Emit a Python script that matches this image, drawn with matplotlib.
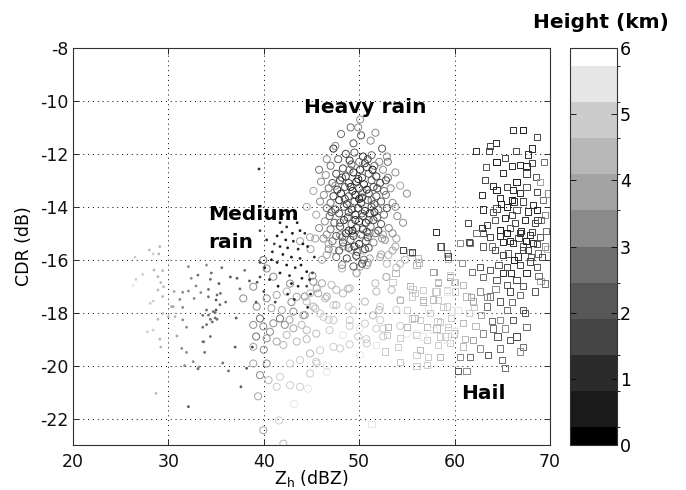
import numpy as np
import matplotlib
matplotlib.use("Agg")
import matplotlib.pyplot as plt
from matplotlib.colors import ListedColormap, BoundaryNorm
from matplotlib.cm import ScalarMappable

plt.rcParams['font.family'] = ['DejaVu Sans']
plt.rcParams['axes.unicode_minus'] = False

# ---------------- data: (Zh dBZ, CDR dB, height km) ----------------
medium_rain_dark = [
    (41.7,-14.6,0.6),(42.4,-14.76,0.9),(43.5,-14.6,0.4),(41.9,-14.95,1.2),(43.0,-15.0,0.5),
    (43.8,-14.9,0.8),(41.4,-15.1,0.3),(42.3,-15.25,0.7),(43.1,-15.3,1.1),(44.1,-15.4,0.6),
    (41.7,-15.5,0.9),(42.5,-15.55,0.4),(43.6,-15.6,1.3),(44.6,-15.5,0.8),(40.9,-15.7,1.0),
    (42.0,-15.8,0.5),(42.9,-15.9,0.7),(43.8,-15.95,1.2),(40.3,-15.25,0.9),(39.6,-16.1,1.4),
    (40.1,-16.3,0.6),(41.4,-16.1,0.8),(42.4,-16.2,0.4),(43.3,-16.3,1.0),(44.5,-16.45,0.7),
    (45.1,-16.5,1.5),(41.7,-16.5,0.5),(42.7,-16.6,1.1),(44.0,-16.7,0.6),(40.6,-16.75,1.3),
    (43.6,-17.0,0.9),(44.5,-17.0,1.4),(41.5,-17.0,0.8),(44.8,-16.75,1.0),(39.6,-16.65,1.6),
    (39.5,-12.57,1.2),(39.6,-14.9,1.5),(42.5,-17.3,1.2),(43.2,-17.5,1.0),(44.6,-17.8,1.3),
    (42.0,-14.3,0.9),(43.2,-14.4,1.1),(44.3,-15.0,0.9),(40.8,-16.0,0.7),(41.1,-15.4,1.4),
    (42.9,-16.9,0.6),(43.9,-16.2,0.5),(45.3,-15.9,1.2),(44.9,-17.3,0.8),(40.0,-17.2,1.8),
    (39.2,-17.6,2.0),(38.8,-19.3,1.8),(38.2,-20.1,2.2),(41.2,-17.6,1.6),
]
medium_rain_gray = [
    (32.1,-16.26,3.0),(33.1,-16.58,2.8),(34.5,-16.5,2.6),(35.3,-16.9,2.4),(34.4,-16.74,2.9),
    (32.4,-16.7,3.2),(32.9,-16.99,3.0),(34.2,-17.12,2.7),(33.4,-17.24,3.1),(32.1,-17.18,3.3),
    (32.7,-17.46,3.0),(34.2,-17.4,2.5),(35.0,-17.52,2.4),(35.45,-17.27,2.6),(31.5,-17.23,3.4),
    (30.6,-17.2,3.6),(31.2,-17.5,3.5),(31.5,-17.8,3.3),(34.0,-17.9,2.6),(34.7,-17.96,2.5),
    (34.2,-18.09,2.7),(35.0,-17.9,2.4),(34.4,-18.25,2.6),(34.9,-18.2,2.5),(33.6,-18.55,2.9),
    (31.9,-18.55,3.4),(31.5,-18.27,3.5),(30.9,-18.88,3.6),(34.4,-18.9,2.8),(33.6,-19.1,3.0),
    (31.4,-19.35,3.5),(33.8,-19.5,2.9),(31.9,-19.5,3.3),(33.1,-20.12,2.8),(31.7,-20.0,3.4),
    (32.1,-21.55,2.3),(33.6,-18.1,2.8),(35.4,-17.7,2.5),(35.1,-17.33,2.7),(36.5,-16.65,2.4),
    (37.2,-16.7,2.2),(38.0,-16.4,2.6),(38.5,-16.8,2.3),(37.5,-17.1,2.5),(39.3,-16.85,2.1),
    (35.6,-16.3,2.8),(34.0,-16.2,3.0),(37.1,-18.2,2.4),(37.0,-19.3,2.2),(35.7,-19.9,2.7),
    (36.3,-20.2,2.5),(37.6,-20.8,2.3),(34.9,-18.0,2.6),(35.1,-18.25,2.5),(34.0,-18.45,2.7),
    (34.6,-18.35,2.6),(33.7,-19.1,2.9),(32.6,-19.85,3.1),(33.2,-20.05,3.0),(36.0,-17.6,2.6),
]
medium_rain_light = [
    (28.0,-15.63,4.6),(29.1,-15.5,4.4),(28.4,-15.78,4.8),(29.0,-15.78,4.5),(26.5,-15.9,5.0),
    (27.3,-16.55,4.7),(26.6,-16.74,5.0),(26.3,-16.98,5.2),(28.5,-16.39,4.6),(28.9,-16.64,4.5),
    (29.4,-16.41,4.3),(29.2,-16.86,4.4),(29.5,-17.02,4.2),(28.9,-17.14,4.6),(29.4,-17.39,4.3),
    (28.4,-17.56,4.7),(28.1,-17.65,4.8),(30.3,-17.77,4.1),(29.4,-18.03,4.4),(28.9,-18.25,4.6),
    (28.4,-18.66,4.8),(27.8,-18.72,5.0),(29.1,-19.0,4.5),(29.2,-19.3,4.4),(28.7,-21.05,4.6),
    (30.0,-18.15,4.2),(30.5,-17.77,4.0),(30.7,-18.15,4.1),
]

heavy_rain_core = [
    (50.1,-10.7,3.5),(49.1,-11.0,2.5),(48.1,-11.25,2.8),(51.7,-11.2,3.2),(50.2,-11.3,2.0),
    (51.2,-11.5,3.0),(49.4,-11.6,2.2),(47.3,-11.8,1.2),(52.9,-12.1,3.4),(45.8,-12.6,2.6),
    (53.8,-12.7,3.0),(45.2,-13.4,3.6),(44.5,-14.0,3.8),(53.8,-14.0,3.2),(49.9,-11.0,3.1),
    (48.6,-12.0,1.8),(49.5,-11.95,2.4),(50.4,-12.1,1.2),(51.3,-12.05,2.9),(47.8,-12.2,2.2),
    (49.0,-12.25,1.0),(50.0,-12.3,2.6),(50.9,-12.2,1.6),(52.1,-12.3,3.1),
    (47.0,-12.45,2.8),(48.3,-12.55,1.4),(49.2,-12.4,2.0),(50.1,-12.6,0.9),(50.8,-12.5,1.7),
    (51.6,-12.45,2.5),(52.5,-12.6,3.3),
    (46.5,-12.8,3.0),(47.6,-12.75,1.9),(48.6,-12.85,1.1),(49.4,-12.7,0.6),(50.3,-12.9,1.5),
    (51.0,-12.75,2.2),(51.8,-12.85,1.3),(53.0,-12.9,2.9),
    (46.0,-13.05,3.4),(47.2,-13.1,2.3),(48.0,-13.0,1.0),(48.9,-13.1,1.6),(49.7,-13.05,0.7),
    (50.5,-13.15,1.2),(51.3,-13.0,2.0),(52.2,-13.1,1.8),
    (46.8,-13.3,2.6),(47.7,-13.35,1.3),(48.5,-13.25,2.1),(49.3,-13.4,0.8),(50.0,-13.3,1.5),
    (50.8,-13.35,0.5),(51.5,-13.25,1.9),(52.6,-13.4,2.7),(53.3,-13.3,3.2),
    (46.3,-13.55,3.1),(47.3,-13.6,1.7),(48.1,-13.5,1.0),(48.9,-13.6,2.3),(49.6,-13.55,1.1),
    (50.3,-13.65,0.6),(51.0,-13.5,1.4),(51.8,-13.6,2.1),(52.8,-13.55,2.9),
    (45.9,-13.8,3.5),(47.0,-13.85,2.5),(47.9,-13.75,1.2),(48.7,-13.9,0.9),(49.5,-13.8,1.8),
    (50.2,-13.85,1.0),(50.9,-13.75,2.4),(51.6,-13.9,1.3),(52.3,-13.8,2.0),(53.5,-13.85,3.3),
    (46.6,-14.05,2.9),(47.5,-14.1,1.6),(48.4,-14.0,2.2),(49.2,-14.1,0.7),(49.9,-14.05,1.5),
    (50.6,-14.15,1.1),(51.3,-14.0,1.9),(52.0,-14.1,2.6),(52.9,-14.05,1.7),
    (45.5,-14.3,3.6),(46.9,-14.35,2.4),(47.9,-14.25,1.4),(48.8,-14.4,1.9),(49.6,-14.3,0.9),
    (50.4,-14.35,1.6),(51.1,-14.25,1.0),(51.9,-14.4,2.3),(52.6,-14.3,2.8),(54.0,-14.35,3.4),
    (46.4,-14.55,3.2),(47.4,-14.6,2.0),(48.4,-14.5,1.2),(49.2,-14.65,2.6),(50.0,-14.55,1.4),
    (50.7,-14.6,0.8),(51.5,-14.5,1.8),(52.3,-14.65,2.4),
    (45.8,-14.8,3.5),(47.0,-14.85,2.6),(48.0,-14.75,1.5),(48.9,-14.9,1.0),(49.7,-14.8,2.1),
    (50.4,-14.85,1.3),(51.2,-14.75,2.7),(52.0,-14.9,1.9),(53.1,-14.8,3.0),
    (46.6,-15.05,3.0),(47.6,-15.1,2.2),(48.6,-15.0,1.1),(49.4,-15.1,1.7),(50.2,-15.05,2.4),
    (50.9,-15.15,1.5),(51.7,-15.0,2.9),
    (47.2,-15.3,2.7),(48.3,-15.35,1.6),(49.1,-15.25,2.3),(50.0,-15.4,1.2),(50.7,-15.3,2.0),
    (51.5,-15.35,3.1),(46.8,-15.6,3.3),(47.9,-15.65,2.1),(48.9,-15.55,1.4),(49.8,-15.7,2.6),
    (50.6,-15.6,1.8),(47.6,-15.9,2.8),(48.7,-15.95,1.9),(49.7,-15.85,1.3),(50.5,-16.0,2.5),
    (48.2,-16.2,3.0),(49.4,-16.25,2.2),(50.3,-16.15,1.7),
    (49.0,-12.6,2.7),(50.6,-12.35,1.9),(48.2,-12.9,2.4),(49.9,-12.95,1.3),(51.4,-12.6,0.8),
    (47.5,-13.2,3.0),(49.1,-13.25,1.2),(50.4,-13.45,2.5),(51.9,-13.3,1.5),(48.5,-13.7,1.6),
    (50.0,-13.7,0.5),(51.3,-13.75,2.8),(47.1,-14.2,2.1),(48.9,-14.2,1.4),(50.3,-14.25,2.0),
    (51.6,-14.2,0.9),(48.0,-14.6,2.5),(49.6,-14.5,1.0),(51.0,-14.5,2.3),(49.3,-14.9,0.8),
    (50.8,-14.95,1.6),(48.2,-15.15,2.6),(49.5,-15.5,1.1),(51.0,-15.55,2.2),(52.4,-15.2,3.2),
    (53.5,-15.0,3.4),(52.8,-13.0,1.4),(45.4,-15.2,3.8),(44.9,-15.6,3.9),(46.1,-16.0,3.7),
    (45.1,-16.6,3.4),(54.3,-13.2,3.6),(54.6,-14.6,3.3),(53.8,-15.5,3.7),(55.0,-13.5,3.5),
    (53.0,-12.3,2.5),(46.6,-12.2,3.3),(47.5,-11.7,3.0),(52.4,-11.8,2.1),(52.7,-15.25,3.6),
]
heavy_rain_spread = [
    (43.8,-15.3,3.8),(44.85,-15.15,3.6),(46.25,-15.2,3.4),(46.8,-15.4,3.9),(47.3,-15.63,3.7),
    (46.6,-15.82,4.0),(48.34,-15.5,3.5),(49.2,-15.63,3.8),(48.0,-15.07,3.3),(51.1,-15.0,3.9),
    (52.7,-15.25,3.7),(53.06,-15.82,4.1),(52.2,-15.9,3.8),(50.8,-16.2,4.0),(51.1,-15.95,3.6),
    (50.1,-16.26,3.9),(48.2,-16.33,4.2),(49.74,-16.51,4.0),(49.0,-17.08,4.4),(47.1,-16.95,4.1),
    (46.1,-16.89,3.8),(45.2,-16.83,3.5),(47.6,-17.14,4.5),(48.3,-17.27,4.3),(46.6,-17.39,4.0),
    (45.7,-17.27,3.7),(44.3,-17.39,3.3),(45.4,-17.84,4.4),(47.6,-17.71,4.6),(48.9,-17.77,4.8),
    (50.6,-17.58,4.5),(52.2,-17.77,4.7),(53.4,-17.14,4.3),(54.3,-17.52,4.9),(53.9,-17.9,5.0),
    (52.9,-16.15,4.1),(54.3,-16.15,4.4),(51.7,-16.89,4.2),(44.15,-18.1,3.6),(46.25,-18.16,4.7),
    (47.3,-18.28,4.9),(49.0,-18.28,5.1),(50.6,-18.41,4.8),(52.2,-18.28,5.0),(44.5,-18.66,4.2),
    (45.5,-18.79,4.6),(46.9,-18.66,5.0),(48.3,-18.85,5.2),(49.9,-18.9,4.9),(48.0,-19.35,5.1),
    (49.0,-19.2,4.7),(50.1,-19.6,5.2),(50.8,-19.16,4.8),(54.3,-18.5,5.0),(55.0,-18.8,5.2),
    (45.5,-19.85,5.0),(46.6,-20.0,5.2),(44.85,-20.3,4.8),(52.5,-18.9,5.1),(56.0,-18.8,5.3),
    (38.9,-17.02,3.2),(37.85,-17.46,3.5),(39.25,-17.77,3.0),(39.6,-18.22,2.9),(38.9,-18.46,3.3),
    (39.95,-18.52,3.1),(40.65,-18.72,3.4),(40.3,-18.97,3.0),(41.0,-18.4,3.2),(41.7,-18.22,2.8),
    (42.2,-18.46,3.1),(42.7,-18.27,3.6),(43.1,-18.59,3.9),(42.4,-18.84,4.2),(41.35,-19.09,3.7),
    (42.05,-19.22,4.5),(43.45,-19.09,4.1),(43.97,-18.46,4.4),(44.3,-18.09,3.8),(43.1,-17.96,3.5),
    (41.9,-17.9,4.0),(40.8,-17.83,3.7),(40.3,-17.46,3.3),(41.35,-17.33,3.6),(42.4,-17.2,4.1),
    (43.45,-17.4,3.9),(44.5,-17.58,4.3),(45.2,-17.77,4.6),(45.9,-18.03,4.8),(46.8,-18.27,5.0),
    (47.3,-17.71,4.7),(46.45,-17.46,4.4),(45.55,-17.08,3.9),(44.85,-17.27,4.2),(42.75,-16.9,3.4),
    (41.0,-16.64,3.0),(40.3,-16.33,3.2),(39.95,-16.01,2.9),(38.9,-19.29,3.6),(40.3,-19.92,3.4),
    (38.9,-19.92,3.8),(39.6,-20.36,3.3),(40.5,-20.55,4.1),(41.7,-20.42,4.7),(41.35,-20.8,4.9),
    (42.75,-20.74,5.1),(43.8,-20.8,5.0),(44.65,-20.87,5.2),(39.4,-21.16,3.7),(39.95,-22.44,4.0),
    (42.05,-22.95,4.6),(41.6,-22.07,5.0),(43.2,-21.44,5.2),(45.55,-19.92,5.0),(46.6,-20.23,5.2),
    (47.3,-19.29,4.9),(45.9,-19.42,4.7),(44.85,-19.54,4.5),(43.8,-19.79,4.8),(42.75,-19.92,5.1),
    (44.5,-19.0,4.3),(49.35,-15.0,3.6),(50.4,-15.65,4.1),(50.9,-16.1,3.9),(49.7,-16.5,4.3),
    (48.8,-17.1,4.5),(49.35,-17.9,4.7),(49.0,-18.5,5.0),(50.05,-18.6,5.2),(50.75,-19.0,4.9),
    (51.8,-18.6,5.1),(52.5,-18.6,4.8),(51.45,-18.1,4.6),(52.1,-17.9,4.4),(51.8,-17.2,4.2),
    (52.85,-16.65,4.0),(53.9,-16.3,4.3),(53.5,-15.65,3.9),(52.3,-15.8,3.6),(54.8,-16.0,4.2),
    (52.5,-15.05,3.8),(53.9,-15.2,4.0),(39.2,-18.9,2.6),(40.0,-19.4,3.5),(42.9,-17.6,3.3),
]

hail_dark = [
    (66.16,-11.1,1.2),(67.14,-11.1,0.8),(68.6,-11.36,1.5),(64.34,-11.6,1.0),(63.71,-11.7,1.9),
    (62.24,-11.88,0.9),(63.57,-11.88,1.4),(67.73,-12.02,1.1),(64.4,-12.3,0.6),(65.28,-12.17,1.6),
    (65.98,-12.46,0.9),(66.86,-12.42,1.3),(67.55,-12.46,0.7),(68.08,-12.33,1.8),(65.04,-12.71,1.0),
    (67.55,-12.74,1.4),(68.53,-12.86,2.4),(66.5,-13.05,0.8),(68.95,-13.05,3.6),(64.0,-13.21,1.2),
    (62.84,-13.55,1.0),(64.4,-13.36,0.5),(65.46,-13.24,1.7),(66.16,-13.36,0.9),(66.86,-13.49,1.1),
    (67.55,-13.24,2.0),(68.6,-13.43,1.5),(64.76,-13.68,1.3),(65.98,-13.74,0.6),(67.2,-13.8,1.8),
    (68.25,-13.93,1.0),(69.3,-13.74,2.6),(64.4,-14.06,1.6),(65.46,-14.0,0.8),(66.5,-14.12,2.2),
    (67.73,-14.18,1.2),(68.6,-14.12,0.7),(69.48,-14.31,3.1),(64.24,-14.5,2.1),(65.28,-14.43,1.0),
    (66.33,-14.62,1.5),(67.38,-14.5,0.9),(68.43,-14.62,1.7),(69.1,-14.5,2.8),(63.36,-14.69,1.4),
    (64.76,-14.87,0.6),(65.8,-14.81,2.0),(66.86,-15.0,1.1),(68.08,-14.94,1.6),(68.95,-15.13,2.3),
    (63.71,-15.13,1.9),(65.1,-15.32,0.9),(66.16,-15.38,1.3),(67.2,-15.5,2.4),(68.25,-15.38,1.0),
    (64.24,-15.63,1.7),(65.63,-15.76,2.2),(66.68,-15.88,1.0),(67.73,-15.63,1.5),(68.78,-15.76,2.7),
    (63.0,-15.5,2.0),(61.54,-15.32,1.6),(62.84,-14.81,1.2),(61.44,-14.6,1.8),(58.05,-14.94,1.3),
    (58.54,-15.5,1.5),(54.63,-15.63,1.9),(55.57,-15.7,1.7),(59.34,-15.88,1.6),
    (63.2,-13.0,1.5),(64.9,-13.9,0.8),(66.0,-14.3,1.9),(67.0,-14.9,1.1),(68.0,-15.9,2.2),
    (69.2,-15.9,1.4),(65.5,-15.0,0.6),(66.9,-16.2,1.8),(68.8,-16.6,2.5),(69.6,-14.9,2.9),
    (69.8,-13.5,3.2),(64.0,-14.2,2.4),(63.0,-14.1,1.3),(62.3,-15.0,2.7),(65.9,-16.5,1.2),
    (67.2,-17.0,2.0),(64.6,-16.2,2.3),(66.4,-11.9,1.7),(63.3,-12.5,2.1),(69.4,-12.3,2.6),
    (68.1,-11.8,0.9),(67.5,-15.3,0.7),(66.2,-13.8,1.0),(68.7,-14.5,1.9),
    (64.76,-15.1,1.3),(65.8,-15.3,0.9),(66.7,-15.17,1.6),(67.9,-15.05,1.1),(68.6,-15.4,2.0),
    (69.5,-15.5,3.0),(67.2,-15.63,1.4),(65.1,-15.82,1.8),(66.2,-16.0,0.8),(67.9,-16.07,1.5),
    (68.6,-16.26,2.2),(67.55,-16.51,1.0),(66.5,-16.76,1.7),(65.5,-16.95,2.4),(64.4,-16.76,2.0),
    (65.8,-17.2,1.6),(66.9,-17.33,2.6),(68.4,-17.2,2.1),(65.1,-16.51,1.2),(65.46,-16.26,1.9),
]
hail_light = [
    (63.7,-17.39,2.6),(62.66,-17.2,3.0),(61.96,-17.58,3.6),(61.26,-17.39,4.2),(63.36,-17.77,2.8),
    (64.76,-17.58,2.2),(65.46,-17.9,2.9),(67.2,-17.9,2.4),(67.55,-18.53,2.7),(66.16,-18.28,2.0),
    (64.76,-18.28,3.2),(64.06,-18.6,2.5),(63.0,-18.79,3.4),(61.96,-19.03,3.9),(65.8,-19.03,2.3),
    (67.2,-19.3,2.9),(64.76,-19.35,2.6),(62.66,-19.35,3.1),(61.6,-19.66,2.8),(60.56,-19.66,3.5),
    (60.9,-19.28,4.4),(59.5,-19.16,4.9),(58.5,-18.9,5.1),(59.34,-18.66,4.8),(60.4,-20.2,2.2),
    (61.26,-20.2,3.3),(65.3,-20.1,2.9),(66.85,-19.47,3.0),(57.77,-16.45,3.8),(58.3,-16.83,4.3),
    (59.5,-16.64,3.5),(60.04,-16.83,4.6),(60.74,-16.13,3.2),(61.8,-16.45,2.7),(62.66,-16.26,2.2),
    (63.0,-16.64,2.9),(63.7,-16.39,2.4),(60.9,-16.95,4.1),(60.04,-17.2,4.8),(59.17,-17.14,5.0),
    (58.1,-17.2,4.7),(58.47,-15.5,3.6),(59.17,-15.76,4.0),(60.56,-15.38,3.3),(61.6,-15.38,2.6),
    (63.0,-15.0,2.3),(63.9,-15.5,2.8),
    (54.6,-15.63,3.6),(55.5,-15.73,3.9),(56.2,-15.95,4.2),(58.5,-15.5,3.3),(59.2,-15.73,3.8),
    (59.35,-15.95,4.5),(56.0,-16.2,4.6),(57.8,-16.45,4.0),(58.3,-16.89,4.4),(59.5,-16.58,4.8),
    (59.9,-16.83,5.0),(53.8,-16.51,4.3),(53.5,-16.83,4.7),(55.3,-16.99,4.5),(55.85,-17.27,4.9),
    (56.7,-17.14,5.1),(58.0,-17.2,5.0),(59.2,-17.2,5.2),(54.3,-17.52,4.6),(55.5,-17.39,5.0),
    (56.7,-17.52,4.4),(57.25,-17.84,5.2),(58.3,-17.52,4.8),(59.2,-17.77,5.1),(59.7,-17.9,5.3),
    (55.5,-18.22,4.7),(56.4,-18.28,5.0),(57.1,-18.53,4.5),(57.8,-18.66,5.2),(58.5,-18.34,4.9),
    (59.35,-18.53,5.0),(59.9,-18.79,4.6),(55.0,-18.53,4.3),(56.0,-18.85,4.8),(57.1,-19.03,5.1),
    (58.3,-19.22,4.7),(59.2,-19.03,5.2),(52.9,-18.85,4.9),(53.06,-18.53,4.5),(54.3,-18.97,5.0),
    (51.8,-19.22,5.2),(52.7,-19.47,4.8),(56.4,-19.41,4.6),(57.25,-19.66,5.0),(58.5,-19.66,4.4),
    (54.3,-19.85,5.1),(57.1,-19.98,4.9),(55.3,-15.7,4.1),(56.3,-16.1,4.5),(55.6,-17.1,4.9),
    (56.7,-17.6,4.2),(55.0,-17.9,5.0),(55.8,-18.2,4.6),(57.4,-18.0,4.8),(58.1,-18.6,4.3),
    (56.7,-18.9,5.2),(56.0,-19.6,4.7),(56.0,-20.0,5.1),(51.3,-22.2,5.2),(54.1,-19.3,4.8),
    (58.8,-17.8,5.0),(59.6,-18.2,4.8),(60.3,-17.9,5.2),(60.9,-18.4,4.6),(61.5,-18.0,5.0),
    (62.2,-18.5,4.4),(58.2,-18.3,5.1),(59.0,-18.9,4.7),(60.0,-18.7,5.3),(61.1,-19.0,4.2),
    (62.0,-17.8,4.9),(62.8,-18.1,3.9),(57.7,-17.5,4.5),(61.7,-17.4,4.0),(63.4,-17.4,3.0),
    (63.9,-18.3,2.6),(64.5,-18.9,2.2),(65.3,-18.6,3.1),(66.5,-18.9,1.8),(67.4,-18.0,2.3),
    (66.0,-17.6,2.7),(64.3,-17.1,3.4),(63.5,-19.6,2.0),(65.0,-19.8,2.5),(69.0,-16.8,3.8),
    (69.7,-15.6,4.2),(69.5,-16.9,2.9),
]

height_ticks = [0, 1, 2, 3, 4, 5, 6]
x_ticks = [20, 30, 40, 50, 60, 70]
y_ticks = [-22, -20, -18, -16, -14, -12, -10, -8]

# ---------------- colour scale: 12 grey levels ----------------
grey_levels = [0.0, 0.10, 0.17, 0.27, 0.34, 0.43, 0.54, 0.64, 0.72, 0.80, 0.90, 1.0]
cmap = ListedColormap([(g, g, g) for g in grey_levels])
step = 6.0 / 11.0
bounds = [0.0] + [step * (i + 0.5) for i in range(11)] + [6.0]
norm = BoundaryNorm(bounds, cmap.N)

def split(pts):
    a = np.array(pts, dtype=float)
    return a[:, 0], a[:, 1], a[:, 2]

fig = plt.figure(figsize=(6.86, 4.90), dpi=100)
ax = fig.add_axes([0.1064, 0.0918, 0.6953, 0.8102])
cax = fig.add_axes([0.8309, 0.0918, 0.0685, 0.8102])

# heavy rain circles
for grp in (heavy_rain_spread, heavy_rain_core):
    x, y, h = split(grp)
    ax.scatter(x, y, s=26, marker='o', facecolors='none',
               edgecolors=cmap(norm(h)), linewidths=0.7, zorder=3)
# hail squares
for grp in (hail_light, hail_dark):
    x, y, h = split(grp)
    ax.scatter(x, y, s=20, marker='s', facecolors='none',
               edgecolors=cmap(norm(h)), linewidths=0.7, zorder=3)
# medium rain dots
for grp in (medium_rain_light, medium_rain_gray, medium_rain_dark):
    x, y, h = split(grp)
    ax.scatter(x, y, s=4, marker='o', c=cmap(norm(h)), linewidths=0, zorder=4)

ax.set_xlim(20, 70)
ax.set_ylim(-23, -8)
ax.set_xticks(x_ticks)
ax.set_yticks(y_ticks)
ax.grid(True, color='black', linestyle=(0, (1, 4)), linewidth=0.7)
ax.set_axisbelow(True)
ax.tick_params(direction='in', length=4, width=0.6, top=True, right=True,
               labelsize=12.5, colors='#111111')
ax.tick_params(axis='x', pad=6)
ax.tick_params(axis='y', pad=3)
for sp in ax.spines.values():
    sp.set_color('#333333')
    sp.set_linewidth(0.8)

ax.set_xlabel(r'Z$_\mathrm{h}$ (dBZ)', fontsize=12.5)
ax.xaxis.set_label_coords(0.5, -0.058)
ax.set_ylabel('CDR (dB)', fontsize=12.5)
ax.yaxis.set_label_coords(-0.083, 0.5)

ax.text(44.2, -10.46, 'Heavy rain', fontsize=14.5, fontweight='bold', zorder=6)
ax.text(34.15, -14.5, 'Medium', fontsize=14.5, fontweight='bold', zorder=6)
ax.text(34.15, -15.56, 'rain', fontsize=14.5, fontweight='bold', zorder=6)
ax.text(60.67, -21.26, 'Hail', fontsize=14.5, fontweight='bold', zorder=6)

sm = ScalarMappable(norm=norm, cmap=cmap)
cb = fig.colorbar(sm, cax=cax, ticks=height_ticks, spacing='proportional')
cb.ax.tick_params(direction='in', length=4, width=0.6, left=True, right=True,
                  labelsize=12.5, pad=2)
cb.outline.set_edgecolor('#333333')
cb.outline.set_linewidth(0.8)
cb.ax.set_yticklabels([str(t) for t in height_ticks])

fig.text(0.777, 0.943, 'Height (km)', fontsize=14.5, fontweight='bold')

fig.savefig('out.png', dpi=100, facecolor='white')
